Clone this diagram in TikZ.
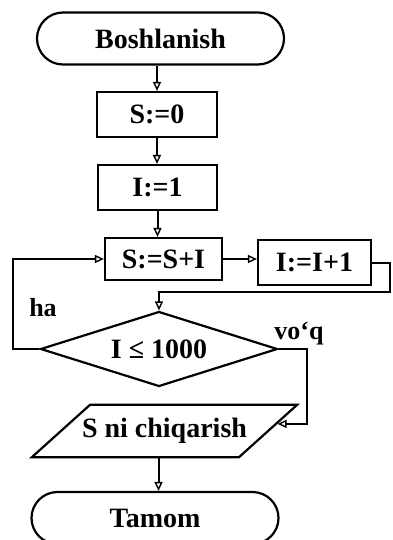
\documentclass[tikz,border=0pt]{standalone}
\usepackage{fontspec}
\setmainfont{Liberation Serif}
\usetikzlibrary{shapes.geometric,shapes.misc,arrows.meta,calc}
\begin{document}
\begin{tikzpicture}[x=1pt,y=-1pt,
  every node/.style={font=\fontsize{28}{30}\selectfont\bfseries, line width=2.2pt, inner sep=0pt},
  term/.style={draw, rounded rectangle, minimum width=247pt, minimum height=52pt},
  proc/.style={draw, rectangle, minimum width=#1, minimum height=44pt},
  dec/.style={draw, diamond, minimum width=237pt, minimum height=75pt, aspect=3.16},
  io/.style={draw, trapezium, trapezium left angle=42, trapezium right angle=138, inner ysep=13.5pt, inner xsep=-8pt},
  lbl/.style={font=\fontsize{26}{28}\selectfont\bfseries},
  conn/.style={line width=2pt, -{Triangle[open,length=9pt,width=8pt,line width=1.4pt]}}
]
\useasboundingbox (0,0) rectangle (392,540);
\node[term] (start) at (160.5,38.5) {Boshlanish};
\node[proc=120pt, minimum height=45pt] (s0) at (157,114.5) {S:=0};
\node[proc=119pt, minimum height=45pt] (i1) at (157.5,187.5) {I:=1};
\node[proc=117pt, minimum height=42pt] (ss) at (163.5,259) {S:=S+I};
\node[proc=113pt, minimum height=45pt] (ii) at (314.5,262.5) {I:=I+1};
\node[dec] (cond) at (159,349) {I ≤ 1000};
\node[io] (out) at (164.5,431) {S ni chiqarish};
\node[term] (end) at (155,518) {Tamom};
\node[lbl] (ha) at (43,308) {ha};
\node[lbl] (yoq) at (299,334) {vo‘q};

\coordinate (r1) at (390,292);
\coordinate (l1) at (13,0);
\coordinate (rr) at (307,0);
\coordinate (oin) at ($(out.top right corner)!0.37!(out.bottom right corner)$);

\draw[conn] (s0.north |- start.south) -- (s0.north);
\draw[conn] (s0.south) -- (s0.south |- i1.north);
\draw[conn] (i1.south) -- (i1.south |- ss.north);
\draw[conn] (ss.east) -- (ss.east -| ii.west);
\draw[conn] (ii.east) -| (r1) -- (r1 -| cond.north) -- (cond.north);
\draw[conn] (cond.west) -| (l1 |- ss.west) -- (ss.west);
\draw[conn] (cond.east) -| (rr |- oin) -- (oin);
\draw[conn] ([xshift=-6pt]out.south) -- ([xshift=-6pt]out.south |- end.north);
\end{tikzpicture}
\end{document}
